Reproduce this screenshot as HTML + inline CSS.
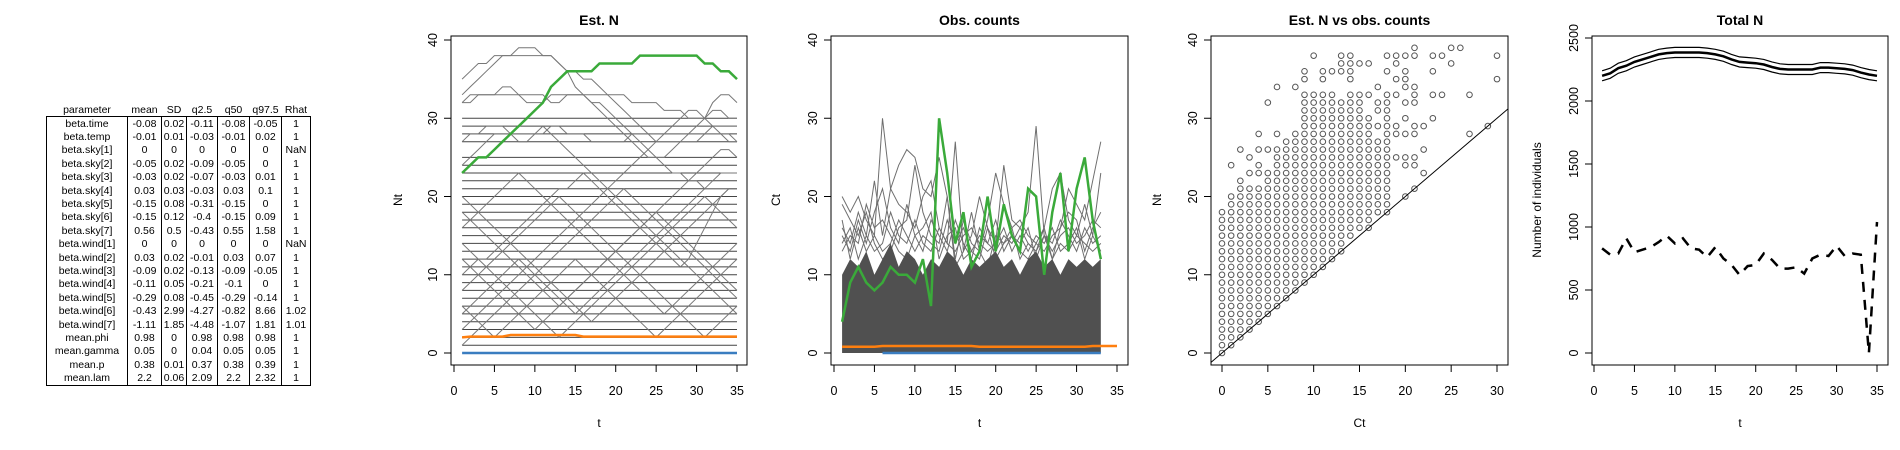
<!DOCTYPE html>
<html><head><meta charset="utf-8"><style>
body{margin:0;background:#fff;width:1900px;height:450px;overflow:hidden;font-family:"Liberation Sans",Arial,sans-serif}
#tbl{position:absolute;left:46px;top:104px;border-collapse:collapse;font-size:10.5px;color:#000}
#tbl td,#tbl th{padding:0 1px;height:13.4px;line-height:12px;text-align:center;font-weight:normal;white-space:nowrap}
#tbl th{border:none;height:11px}
#tbl td{border-left:1px solid #000;border-right:1px solid #000}
#tbl tbody{border:1.5px solid #000}
svg{position:absolute;left:0;top:0}
text{font-family:"Liberation Sans",Arial,sans-serif}
</style></head><body>
<table id="tbl">
<thead><tr><th>parameter</th><th>mean</th><th>SD</th><th>q2.5</th><th>q50</th><th>q97.5</th><th>Rhat</th></tr></thead>
<tbody>
<tr><td style="width:78px">beta.time</td><td style="width:31px">-0.08</td><td style="width:22px">0.02</td><td style="width:28px">-0.11</td><td style="width:29px">-0.08</td><td style="width:29px">-0.05</td><td style="width:26px">1</td></tr>
<tr><td>beta.temp</td><td>-0.01</td><td>0.01</td><td>-0.03</td><td>-0.01</td><td>0.02</td><td>1</td></tr>
<tr><td>beta.sky[1]</td><td>0</td><td>0</td><td>0</td><td>0</td><td>0</td><td>NaN</td></tr>
<tr><td>beta.sky[2]</td><td>-0.05</td><td>0.02</td><td>-0.09</td><td>-0.05</td><td>0</td><td>1</td></tr>
<tr><td>beta.sky[3]</td><td>-0.03</td><td>0.02</td><td>-0.07</td><td>-0.03</td><td>0.01</td><td>1</td></tr>
<tr><td>beta.sky[4]</td><td>0.03</td><td>0.03</td><td>-0.03</td><td>0.03</td><td>0.1</td><td>1</td></tr>
<tr><td>beta.sky[5]</td><td>-0.15</td><td>0.08</td><td>-0.31</td><td>-0.15</td><td>0</td><td>1</td></tr>
<tr><td>beta.sky[6]</td><td>-0.15</td><td>0.12</td><td>-0.4</td><td>-0.15</td><td>0.09</td><td>1</td></tr>
<tr><td>beta.sky[7]</td><td>0.56</td><td>0.5</td><td>-0.43</td><td>0.55</td><td>1.58</td><td>1</td></tr>
<tr><td>beta.wind[1]</td><td>0</td><td>0</td><td>0</td><td>0</td><td>0</td><td>NaN</td></tr>
<tr><td>beta.wind[2]</td><td>0.03</td><td>0.02</td><td>-0.01</td><td>0.03</td><td>0.07</td><td>1</td></tr>
<tr><td>beta.wind[3]</td><td>-0.09</td><td>0.02</td><td>-0.13</td><td>-0.09</td><td>-0.05</td><td>1</td></tr>
<tr><td>beta.wind[4]</td><td>-0.11</td><td>0.05</td><td>-0.21</td><td>-0.1</td><td>0</td><td>1</td></tr>
<tr><td>beta.wind[5]</td><td>-0.29</td><td>0.08</td><td>-0.45</td><td>-0.29</td><td>-0.14</td><td>1</td></tr>
<tr><td>beta.wind[6]</td><td>-0.43</td><td>2.99</td><td>-4.27</td><td>-0.82</td><td>8.66</td><td>1.02</td></tr>
<tr><td>beta.wind[7]</td><td>-1.11</td><td>1.85</td><td>-4.48</td><td>-1.07</td><td>1.81</td><td>1.01</td></tr>
<tr><td>mean.phi</td><td>0.98</td><td>0</td><td>0.98</td><td>0.98</td><td>0.98</td><td>1</td></tr>
<tr><td>mean.gamma</td><td>0.05</td><td>0</td><td>0.04</td><td>0.05</td><td>0.05</td><td>1</td></tr>
<tr><td>mean.p</td><td>0.38</td><td>0.01</td><td>0.37</td><td>0.38</td><td>0.39</td><td>1</td></tr>
<tr><td>mean.lam</td><td>2.2</td><td>0.06</td><td>2.09</td><td>2.2</td><td>2.32</td><td>1</td></tr>
</tbody></table>
<svg id="svg" width="1900" height="450"></svg>
<script>
// ---- data ----
const tTicks=[0,5,10,15,20,25,30,35];
const nTicks=[0,10,20,30,40];
const ctTicks=[0,5,10,15,20,25,30];
const totTicks=[0,500,1000,1500,2000,2500];
const estLevels=[1,2,3,4,5,6,7,8,9,10,11,12,13,14,15,16,17,18,19,20,21,22,23,24,25,27,28,29,30];
const estGrayA=[35,36,37,37,38,38,38,38,38,38,38,38,37,36,34,33,32,31,30,29,28,27,26,25,25,24,23,23,22,22,21,21,21,21,21];
const estGrayB=[33,34,35,36,37,38,38,39,39,39,38,38,37,36,36,35,35,34,33,32,31,30,29,28,27,27,27,27,27,27,28,29,29,29,29];
const estGrayC=[32,32,33,33,33,34,34,33,33,33,33,32,32,33,33,33,33,33,33,33,33,32,32,32,32,31,31,31,30,30,30,31,31,30,30];
const estGrayD=[32,33,33,33,33,33,33,33,32,32,32,33,33,33,33,33,32,32,31,30,29,28,27,26,25,25,26,27,28,29,30,32,33,33,32];
const estGrayE=[27,28,28,29,29,29,28,27,27,28,28,29,29,28,28,28,27,27,27,27,27,28,28,28,28,28,28,28,28,28,28,28,28,28,27];
const estGrayG=[24,25,26,27,28,28,28,28,28,28,29,28,27,26,25,24,23,22,21,20,19,18,17,16,15,14,13,12,11,10,9,8,7,6,5];
const estGrayH=[3,4,5,6,7,8,9,10,11,12,13,14,15,16,17,18,19,20,21,22,23,24,25,26,27,28,29,30,31,31,30,29,28,27,27];
const estGrayI=[10,11,12,12,13,14,15,16,17,18,19,20,21,21,22,23,22,21,20,19,18,17,16,15,14,13,12,11,12,14,16,18,20,21,21];
const estGrayJ=[20,19,18,17,16,15,14,13,12,11,10,9,8,7,6,5,4,5,6,7,8,9,10,11,12,13,14,15,16,17,18,19,20,21,21];
const estGrayK=[5,6,7,8,9,10,11,12,11,10,9,8,7,6,5,6,7,8,9,10,11,12,13,14,15,16,17,18,19,20,21,22,23,23,23];
const estGrayL=[18,17,16,15,14,13,12,11,10,9,8,7,6,7,8,9,10,11,12,13,14,15,16,17,18,19,20,21,22,23,24,25,26,26,25];
const estGrayM=[1,2,3,4,5,6,7,8,9,10,11,12,13,14,15,16,17,18,19,20,21,20,19,18,17,16,15,14,13,12,11,10,9,8,7];
const estGrayN=[14,13,12,11,10,9,8,7,6,5,4,3,2,3,4,5,6,7,8,9,10,11,12,13,14,15,16,17,18,19,20,19,18,17,16];
const estGrayO=[8,9,10,11,12,13,14,15,16,17,18,19,20,19,18,17,16,15,14,13,12,11,10,9,8,7,6,5,4,3,2,3,4,5,6];
const estGrayP=[16,17,18,19,20,21,22,23,22,21,20,19,18,17,16,15,14,13,12,11,10,9,8,7,6,5,6,7,8,9,10,11,12,13,14];
const estGrayQ=[12,11,10,9,8,7,6,5,4,3,4,5,6,7,8,9,10,11,12,13,14,15,16,17,18,17,16,15,14,13,12,11,10,9,8];
const estGrayR=[6,5,4,3,2,3,4,5,6,7,8,9,10,11,12,11,10,9,8,7,6,5,4,3,2,3,4,5,6,7,8,9,10,11,12];
const estGreen=[23,24,25,25,26,27,28,29,30,31,32,34,35,36,36,36,36,37,37,37,37,37,38,38,38,38,38,38,38,38,37,37,36,36,35];
const estOrange=[2,2.1,2.1,2.1,2.1,2.1,2.3,2.3,2.3,2.3,2.3,2.3,2.3,2.3,2.3,2.1,2.1,2.1,2.1,2.1,2.1,2.1,2.1,2.1,2.1,2.1,2.1,2.1,2.1,2.1,2.1,2.1,2.1,2.1,2.1];
const obsDense=[10,12,11,13,10,12,14,11,13,12,10,12,11,13,12,10,12,11,12,13,11,12,10,12,13,11,12,10,12,11,12,11,12];
const obsP1=[20,18,20,17,15,30,21,19,18,16,20,22,16,14,27,13,15,20,16,14,24,17,16,18,29,15,12,16,21,19,17,22,27];
const obsP2=[16,14,18,15,22,15,21,24,26,25,21,20,25,20,12,17,14,13,17,23,19,16,12,14,13,16,21,23,17,15,19,15,23];
const obsP3=[19,17,15,18,14,12,13,16,17,24,18,15,14,20,11,13,18,13,11,15,14,16,17,15,14,13,15,16,18,17,13,16,18];
const obsP4=[13,15,14,19,16,17,15,13,12,15,16,18,12,15,16,12,13,12,16,12,14,15,13,12,14,16,12,14,13,15,14,13,14];
const obsP5=[15,13,17,14,18,21,16,14,19,15,13,17,15,13,17,14,12,16,14,17,13,15,14,16,12,15,14,17,15,13,16,14,15];
const obsP6=[14,16,12,15,13,14,18,15,14,17,14,13,16,14,13,15,16,14,13,14,16,13,15,13,15,14,16,13,14,16,12,15,13];
const obsP7=[17,12,16,13,15,13,14,17,15,13,15,14,13,17,14,16,13,15,14,13,15,14,16,14,13,15,13,15,16,14,15,17,16];
const obsGreen=[4,9,11,9,8,9,11,10,10,9,12,6,30,23,14,18,11,13,20,13,19,15,13,21,20,10,18,23,13,21,25,17,12];
const obsOrange=[0.8,0.8,0.8,0.8,0.8,0.9,0.9,0.9,0.9,0.9,0.9,0.9,0.9,0.9,0.9,0.9,0.9,0.8,0.8,0.8,0.8,0.8,0.8,0.8,0.8,0.8,0.8,0.8,0.8,0.8,0.8,0.9,0.9,0.9,0.9];
const scatCt=[0,1,2,3,4,5,6,7,8,9,10,11,12,13,14,15,16,17,18];
const scatLo=[0,1,2,3,4,5,6,7,8,9,10,11,12,13,15,16,16,18,18];
const scatHi=[18,20,22,21,21,23,26,27,28,33,33,33,33,32,33,33,30,27,33];
const extraCt=[1,2,3,3,4,4,4,4,5,5,6,6,8,9,9,10,11,11,12,13,13,13,14,14,14,14,15,16,16,17,17,17,17,18,18,19,19,19,19,19,19,19,20,20,20,20,20,20,20,20,20,20,21,21,21,21,21,21,21,21,21,21,22,22,22,23,23,23,23,24,24,25,25,26,27,27,29,30,30];
const extraNt=[24,26,23,25,23,24,26,28,26,32,28,34,34,35,36,38,35,36,36,36,37,38,35,36,37,38,37,33,37,29,31,32,34,36,38,25,28,29,33,35,37,38,20,24,25,28,30,32,34,35,36,38,21,24,25,28,29,32,33,34,38,39,23,26,29,30,33,36,38,33,38,37,39,39,28,33,29,35,38];
const totMean=[2200,2220,2260,2280,2310,2330,2350,2370,2380,2385,2385,2385,2385,2380,2370,2355,2330,2310,2305,2300,2290,2270,2255,2250,2250,2250,2250,2265,2265,2260,2255,2245,2225,2210,2200];
const totUpper=[2240,2260,2300,2320,2350,2370,2390,2410,2420,2425,2425,2425,2425,2420,2410,2395,2370,2350,2345,2340,2330,2310,2295,2290,2290,2290,2290,2305,2305,2300,2295,2285,2265,2250,2240];
const totLower=[2160,2180,2220,2240,2270,2290,2310,2330,2340,2345,2345,2345,2345,2340,2330,2315,2290,2270,2265,2260,2250,2230,2215,2210,2210,2210,2210,2225,2225,2220,2215,2205,2185,2170,2160];
const totObs=[830,780,790,910,800,820,840,880,930,870,910,830,820,760,840,750,700,620,690,700,790,740,670,670,680,630,750,780,770,850,770,790,780,0,1040];

// ---- drawing ----
const NS='http://www.w3.org/2000/svg';
const svg=document.getElementById('svg');
function el(tag,attrs,parent){const e=document.createElementNS(NS,tag);for(const k in attrs)e.setAttribute(k,attrs[k]);(parent||svg).appendChild(e);return e;}
function lin(d0,d1,p0,p1){return v=>p0+(v-d0)*(p1-p0)/(d1-d0);}
function panel(o){
  const g=el('g',{});
  
  
  const box=el('rect',{x:o.L,y:36,width:o.R-o.L,height:329,fill:'none',stroke:'#000','stroke-width':1},g);
  
  
  const cx=(o.L+o.R)/2;
  const ti=el('text',{x:cx,y:25,'text-anchor':'middle','font-size':14,'font-weight':'bold'},g);ti.textContent=o.title;
  
  
  const xt=el('text',{x:cx,y:427,'text-anchor':'middle','font-size':12},g);xt.textContent=o.xlab;
  
  
  const yt=el('text',{x:0,y:0,'text-anchor':'middle','font-size':12,transform:`translate(${o.ylx},200) rotate(-90)`},g);yt.textContent=o.ylab;
  
  
  const xa=el('g',{},g);
  
  
  el('line',{x1:o.sx(o.xt[0]),x2:o.sx(o.xt[o.xt.length-1]),y1:365,y2:365,stroke:'#000'},xa);
  o.xt.forEach(v=>{const x=o.sx(v);el('line',{x1:x,x2:x,y1:365,y2:372,stroke:'#000'},xa);
    const t=el('text',{x:x,y:395,'text-anchor':'middle','font-size':12.5},xa);t.textContent=v;});
  const ya=el('g',{},g);
  
  
  el('line',{x1:o.L,x2:o.L,y1:o.sy(o.yt[0]),y2:o.sy(o.yt[o.yt.length-1]),stroke:'#000'},ya);
  o.yt.forEach(v=>{const y=o.sy(v);el('line',{x1:o.L,x2:o.L-7,y1:y,y2:y,stroke:'#000'},ya);
    const t=el('text',{x:0,y:0,'text-anchor':'middle','font-size':12.5,transform:`translate(${o.L-14},${y}) rotate(-90)`},ya);t.textContent=v;});
  return g;
}
function path(g,xs,ys,sx,sy,attrs,name){
  let d='';ys.forEach((v,i)=>{d+=(i?'L':'M')+sx(xs[i]).toFixed(1)+','+sy(v).toFixed(1);});
  const p=el('path',Object.assign({d:d,fill:'none'},attrs),g);
  
  
  return p;
}
const T35=estGreen.map((_,i)=>i+1);
const T33=obsGreen.map((_,i)=>i+1);
const syN=lin(0,40,353,40);

// Panel 1
{const sx=lin(0,35,454,737);
 const g=panel({name:'est-n-chart',L:451,R:747,sx:sx,sy:syN,xt:tTicks,yt:nTicks,title:'Est. N',xlab:'t',ylab:'Nt',ylx:402});
 estLevels.forEach(v=>path(g,[1,35],[v,v],sx,syN,{stroke:'#444','stroke-width':1},'est-level-line'));
 [estGrayA,estGrayB,estGrayC,estGrayD,estGrayE,estGrayG,estGrayH,estGrayI,estGrayJ,estGrayK,estGrayL,estGrayM,estGrayN,estGrayO,estGrayP,estGrayQ,estGrayR].forEach(s=>path(g,T35,s,sx,syN,{stroke:'#777','stroke-width':1},'est-site-line'));
 path(g,[1,35],[0,0],sx,syN,{stroke:'#3a7dc0','stroke-width':2.5},'est-blue-line');
 path(g,T35,estOrange,sx,syN,{stroke:'#ff7f0e','stroke-width':2.5},'est-orange-line');
 path(g,T35,estGreen,sx,syN,{stroke:'#3aaa3a','stroke-width':2.5},'est-green-line');
}
// Panel 2
{const sx=lin(0,35,834,1117);
 const g=panel({name:'obs-counts-chart',L:831,R:1128,sx:sx,sy:syN,xt:tTicks,yt:nTicks,title:'Obs. counts',xlab:'t',ylab:'Ct',ylx:780});
 [obsP1,obsP2,obsP3,obsP4,obsP5,obsP6,obsP7].forEach(s=>path(g,T33,s,sx,syN,{stroke:'#6e6e6e','stroke-width':1},'obs-site-line'));
 let d='M'+sx(1)+','+syN(0);obsDense.forEach((v,i)=>{d+='L'+sx(i+1).toFixed(1)+','+syN(v).toFixed(1);});d+='L'+sx(33)+','+syN(0)+'Z';
 const dn=el('path',{d:d,fill:'#505050'},g);
 
 
 path(g,[6,33],[0,0],sx,syN,{stroke:'#3a7dc0','stroke-width':2.5},'obs-blue-line');
 path(g,T35,obsOrange,sx,syN,{stroke:'#ff7f0e','stroke-width':2.5},'obs-orange-line');
 path(g,T33,obsGreen,sx,syN,{stroke:'#3aaa3a','stroke-width':2.5},'obs-green-line');
}
// Panel 3
{const sx=lin(0,30,1222,1497);
 const g=panel({name:'est-vs-obs-chart',L:1211,R:1508,sx:sx,sy:syN,xt:ctTicks,yt:nTicks,title:'Est. N vs obs. counts',xlab:'Ct',ylab:'Nt',ylx:1161});
 const pts=el('g',{fill:'none',stroke:'#555','stroke-width':1},g);
 
 
 scatCt.forEach((c,i)=>{for(let n=scatLo[i];n<=scatHi[i];n++){const p=el('circle',{cx:sx(c),cy:syN(n),r:2.8},pts);
   }});
 extraCt.forEach((c,i)=>{const p=el('circle',{cx:sx(c),cy:syN(extraNt[i]),r:2.8},pts);
   });
 const cp=el('clipPath',{id:'c3'},g);el('rect',{x:1211,y:36,width:297,height:329},cp);
 const l=el('line',{x1:sx(-2),y1:syN(-2),x2:sx(32),y2:syN(32),stroke:'#000','stroke-width':1,'clip-path':'url(#c3)'},g);
 
 
}
// Panel 4
{const sx=lin(0,35,1594,1877);const sy=lin(0,2500,353,38);
 const g=panel({name:'total-n-chart',L:1592,R:1888,sx:sx,sy:sy,xt:tTicks,yt:totTicks,title:'Total N',xlab:'t',ylab:'Number of individuals',ylx:1541});
 path(g,T35,totUpper,sx,sy,{stroke:'#000','stroke-width':1.2},'total-upper-ci');
 path(g,T35,totLower,sx,sy,{stroke:'#000','stroke-width':1.2},'total-lower-ci');
 path(g,T35,totMean,sx,sy,{stroke:'#000','stroke-width':2.5},'total-mean-line');
 path(g,T35,totObs,sx,sy,{stroke:'#000','stroke-width':2.5,'stroke-dasharray':'10,8'},'total-obs-dashed');
}
</script>
</body></html>
